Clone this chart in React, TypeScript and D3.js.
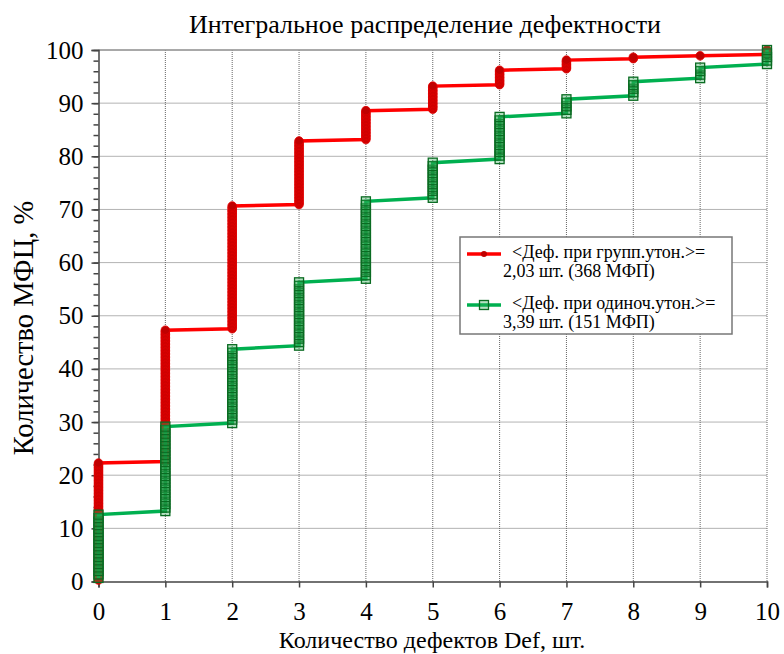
import React, { useEffect, useRef } from 'react'
import * as d3 from 'd3'

// число дефектов на МФП
const defects = [0, 1, 2, 3, 4, 5, 6, 7, 8, 9, 10]
// количество МФП с данным числом дефектов
const groupCounts = [82, 92, 86, 45, 21, 17, 11, 7, 2, 1, 4]
const singleCounts = [19, 25, 22, 19, 23, 11, 13, 5, 5, 4, 5]
const yTicks = [0, 10, 20, 30, 40, 50, 60, 70, 80, 90, 100]

const legendLines = [
  ['<Деф. при групп.утон.>=', '2,03 шт. (368 МФП)'],
  ['<Деф. при одиноч.утон.>=', '3,39 шт. (151 МФП)'],
]

type Pt = { x: number; y: number }

function cumulative(counts: number[]): Pt[] {
  const total = d3.sum(counts)
  const pts: Pt[] = []
  let c = 0
  counts.forEach((n, i) => {
    for (let j = 0; j < n; j++) {
      c++
      pts.push({ x: defects[i], y: (c / total) * 100 })
    }
  })
  return pts
}

const W = 784
const H = 654
const FONT = '"Liberation Serif", "Times New Roman", serif'

export default function App() {
  const ref = useRef<SVGSVGElement>(null)

  useEffect(() => {
    const svg = d3.select(ref.current)
    svg.selectAll('*').remove()

    const left = 98.5, right = 767, top = 50, bottom = 581.5
    const x = d3.scaleLinear().domain([0, 10]).range([left, right])
    const y = d3.scaleLinear().domain([0, 100]).range([bottom, top])

    svg.append('rect').attr('width', W).attr('height', H).attr('fill', '#fff')

    // сетка
    const grid = svg.append('g')
    grid.selectAll('.gx').data(defects.slice(1)).enter().append('line')
      .attr('x1', d => x(d)).attr('x2', d => x(d))
      .attr('y1', top).attr('y2', bottom)
      .attr('stroke', '#666').attr('stroke-width', 1).attr('stroke-dasharray', '1,1')
    grid.selectAll('.gy').data(yTicks.slice(1)).enter().append('line')
      .attr('x1', left).attr('x2', right)
      .attr('y1', d => y(d)).attr('y2', d => y(d))
      .attr('stroke', '#666').attr('stroke-width', 1).attr('stroke-dasharray', '1,1')
    grid.append('line').attr('x1', left).attr('x2', right).attr('y1', top).attr('y2', top)
      .attr('stroke', '#999').attr('stroke-width', 1.5)

    // оси
    const yAxis = svg.append('g').attr('transform', `translate(${left},0)`)
      .call(d3.axisLeft(y).tickValues(yTicks).tickSize(7).tickPadding(8))
    const yMinor = svg.append('g').attr('transform', `translate(${left},0)`)
      .call(d3.axisLeft(y).tickValues(d3.range(0, 101, 2)).tickSize(5).tickFormat(() => ''))
    yMinor.select('.domain').remove()
    const xAxis = svg.append('g').attr('transform', `translate(0,${bottom})`)
      .call(d3.axisBottom(x).tickValues(defects).tickSize(6).tickPadding(15))
    ;[yAxis, xAxis, yMinor].forEach(a => {
      a.attr('font-family', FONT)
      a.selectAll('line').attr('stroke', '#444').attr('stroke-width', 1.5)
      a.select('.domain').attr('stroke', '#444').attr('stroke-width', 1.5)
      a.selectAll('text').attr('font-family', FONT).attr('font-size', 25).attr('fill', '#000')
    })

    const line = d3.line<Pt>().x(d => x(d.x)).y(d => y(d.y))

    // групповые утонения
    const red = cumulative(groupCounts)
    svg.append('path').datum(red).attr('d', line).attr('fill', 'none')
      .attr('stroke', '#ff0000').attr('stroke-width', 3.5)
    svg.append('g').selectAll('circle').data(red).enter().append('circle')
      .attr('cx', d => x(d.x)).attr('cy', d => y(d.y)).attr('r', 4.3)
      .attr('fill', '#c00000').attr('stroke', '#e40000').attr('stroke-width', 0.8)

    // одиночные утонения
    const green = cumulative(singleCounts)
    svg.append('path').datum(green).attr('d', line).attr('fill', 'none')
      .attr('stroke', '#00b050').attr('stroke-width', 3.5)
    svg.append('g').selectAll('rect').data(green).enter().append('rect')
      .attr('x', d => x(d.x) - 4.5).attr('y', d => y(d.y) - 4.5)
      .attr('width', 9).attr('height', 9)
      .attr('fill', 'rgba(40,170,80,0.35)').attr('stroke', '#0a6b22').attr('stroke-width', 1.3)

    // легенда
    const lg = svg.append('g').attr('transform', 'translate(460,237)')
    lg.append('rect').attr('width', 272).attr('height', 97).attr('fill', '#fff')
      .attr('stroke', '#777').attr('stroke-width', 1.5)
    legendLines.forEach((lines, i) => {
      const yy = 17 + i * 51
      lg.append('line').attr('x1', 7).attr('x2', 41).attr('y1', yy).attr('y2', yy)
        .attr('stroke', i === 0 ? '#ff0000' : '#00b050').attr('stroke-width', 3.5)
      if (i === 0) {
        lg.append('circle').attr('cx', 24).attr('cy', yy).attr('r', 3).attr('fill', '#c00000')
      } else {
        lg.append('rect').attr('x', 19.5).attr('y', yy - 4.5).attr('width', 9).attr('height', 9)
          .attr('fill', 'rgba(40,170,80,0.35)').attr('stroke', '#0a6b22').attr('stroke-width', 1.3)
      }
      lg.append('text').attr('x', 52).attr('y', yy + 4).text(lines[0])
        .attr('font-family', FONT).attr('font-size', 18)
      lg.append('text').attr('x', 43).attr('y', yy + 23).text(lines[1])
        .attr('font-family', FONT).attr('font-size', 18)
    })

    // подписи
    svg.append('text').attr('x', 425).attr('y', 33).attr('text-anchor', 'middle')
      .attr('font-family', FONT).attr('font-size', 26).text('Интегральное распределение дефектности')
    svg.append('text').attr('x', 432).attr('y', 648).attr('text-anchor', 'middle')
      .attr('font-family', FONT).attr('font-size', 24).text('Количество дефектов Def, шт.')
    svg.append('text').attr('transform', 'translate(33,328) rotate(-90)').attr('text-anchor', 'middle')
      .attr('font-family', FONT).attr('font-size', 28.5).text('Количество МФЦ, %')
  }, [])

  return (
    <svg ref={ref} width={W} height={H}
      style={{ display: 'block', position: 'fixed', left: 0, top: 0 }} />
  )
}
